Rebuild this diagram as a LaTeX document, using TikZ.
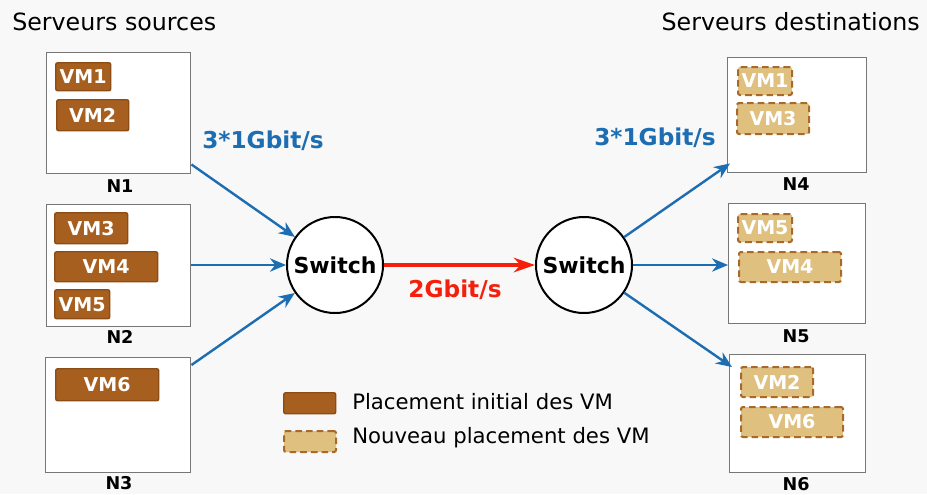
\documentclass[tikz,border=0pt]{standalone}
\usepackage{fontspec}
\setmainfont{DejaVu Sans}
\usetikzlibrary{arrows.meta,calc}
\definecolor{vmfill}{HTML}{A65F1E}
\definecolor{vmdraw}{HTML}{8C4C16}
\definecolor{nwfill}{HTML}{DFC07F}
\definecolor{nwdraw}{HTML}{A8692A}
\definecolor{linkblue}{HTML}{1C6DB1}
\definecolor{linkred}{HTML}{F5200C}
\definecolor{boxgray}{HTML}{777777}
\definecolor{bgc}{HTML}{F8F8F8}
\begin{document}
\begin{tikzpicture}[x=0.75pt,y=-0.75pt,
  srv/.style={draw=boxgray,line width=1.1pt,fill=white,anchor=north west,inner sep=0pt},
  vmold/.style={draw=vmdraw,line width=1.1pt,rounded corners=1.5pt,fill=vmfill,anchor=north west,inner sep=0pt,
    text=white,font=\bfseries\fontsize{14.3}{14.3}\selectfont},
  vmnew/.style={draw=nwdraw,line width=1.5pt,rounded corners=1.5pt,dash pattern=on 5pt off 3pt,fill=nwfill,anchor=north west,inner sep=0pt,
    text=white,font=\bfseries\fontsize{14.3}{14.3}\selectfont},
  lbl/.style={font=\bfseries\fontsize{13.2}{13.2}\selectfont,inner sep=0pt},
  title/.style={font=\fontsize{17.8}{18}\selectfont,inner sep=0pt},
  legtext/.style={font=\fontsize{15.9}{16}\selectfont,inner sep=0pt,anchor=west},
  sw/.style={circle,draw=black,line width=1.5pt,fill=white,minimum size=96*0.75pt,inner sep=0pt,
    font=\bfseries\fontsize{16.5}{16.5}\selectfont},
  bluearrow/.style={draw=linkblue,line width=1.8pt,-{Stealth[length=12pt,width=10pt]}},
  redarrow/.style={draw=linkred,line width=2.3pt,-{Stealth[length=16pt,width=11pt]}},
  ratelbl/.style={font=\bfseries\fontsize{17.4}{17.4}\selectfont,inner sep=0pt}
]
\fill[bgc] (0,0) rectangle (927,494);
\useasboundingbox (0,0) rectangle (927,494);

% titles
\node[title,anchor=west] (tsrc) at (12,22) {Serveurs sources};
\node[title,anchor=east] (tdst) at (920,22) {Serveurs destinations};

% source servers
\node[srv,minimum width=144*0.75pt,minimum height=121*0.75pt] (n1) at (46,52) {};
\node[lbl] (ln1) at (120,186) {N1};
\node[vmold,minimum width=55*0.75pt,minimum height=28*0.75pt] (s1) at (55,62) {VM1};
\node[vmold,minimum width=72*0.75pt,minimum height=31*0.75pt] (s2) at (56,99) {VM2};

\node[srv,minimum width=144*0.75pt,minimum height=122*0.75pt] (n2) at (46,204) {};
\node[lbl] (ln2) at (120,337) {N2};
\node[vmold,minimum width=73*0.75pt,minimum height=31*0.75pt] (s3) at (54,212) {VM3};
\node[vmold,minimum width=103*0.75pt,minimum height=30*0.75pt] (s4) at (54,251) {VM4};
\node[vmold,minimum width=55*0.75pt,minimum height=29*0.75pt] (s5) at (54,289) {VM5};

\node[srv,minimum width=145*0.75pt,minimum height=115*0.75pt] (n3) at (45,357) {};
\node[lbl] (ln3) at (119,483) {N3};
\node[vmold,minimum width=103*0.75pt,minimum height=32*0.75pt] (s6) at (55,368) {VM6};

% destination servers
\node[srv,minimum width=139*0.75pt,minimum height=115*0.75pt] (n4) at (727,57) {};
\node[lbl] (ln4) at (796,184) {N4};
\node[vmnew,minimum width=54*0.75pt,minimum height=28*0.75pt] (d1) at (737,66) {VM1};
\node[vmnew,minimum width=72*0.75pt,minimum height=31*0.75pt] (d3) at (736,102) {VM3};

\node[srv,minimum width=137*0.75pt,minimum height=120*0.75pt] (n5) at (728,203) {};
\node[lbl] (ln5) at (796,336) {N5};
\node[vmnew,minimum width=54*0.75pt,minimum height=28*0.75pt] (d5) at (737,213) {VM5};
\node[vmnew,minimum width=102*0.75pt,minimum height=30*0.75pt] (d4) at (738,251) {VM4};

\node[srv,minimum width=136*0.75pt,minimum height=118*0.75pt] (n6) at (729,354) {};
\node[lbl] (ln6) at (796,484) {N6};
\node[vmnew,minimum width=72*0.75pt,minimum height=30*0.75pt] (d2) at (740,366) {VM2};
\node[vmnew,minimum width=102*0.75pt,minimum height=30*0.75pt] (d6) at (740,406) {VM6};

% switches
\node[sw] (sw1) at (335,265) {Switch};
\node[sw] (sw2) at (584,265) {Switch};

% links
\draw[bluearrow] ($(n1.south east)+(0,-10)$) -- (sw1);
\draw[bluearrow] (n2.east |- sw1) -- (sw1);
\draw[bluearrow] ($(n3.north east)+(0,8)$) -- (sw1);
\draw[redarrow] (sw1) -- (sw2);
\draw[bluearrow] (sw2) -- ($(n4.south west)+(3,-10)$);
\draw[bluearrow] (sw2) -- (n5.west |- sw2);
\draw[bluearrow] (sw2) -- ($(n6.north west)+(3,13)$);

\node[ratelbl,text=linkblue] (r1) at (263,141) {3*1Gbit/s};
\node[ratelbl,text=linkblue] (r2) at (655,138) {3*1Gbit/s};
\node[ratelbl,text=linkred] (r3) at (455,290) {2Gbit/s};

% legend
\node[vmold,minimum width=52*0.75pt,minimum height=21*0.75pt] (lg1) at (283,392) {};
\node[vmnew,minimum width=52*0.75pt,minimum height=21*0.75pt] (lg2) at (283,430) {};
\node[legtext] (lt1) at (352,402) {Placement initial des VM};
\node[legtext] (lt2) at (352,438) {Nouveau placement des VM};
\end{tikzpicture}
\end{document}
